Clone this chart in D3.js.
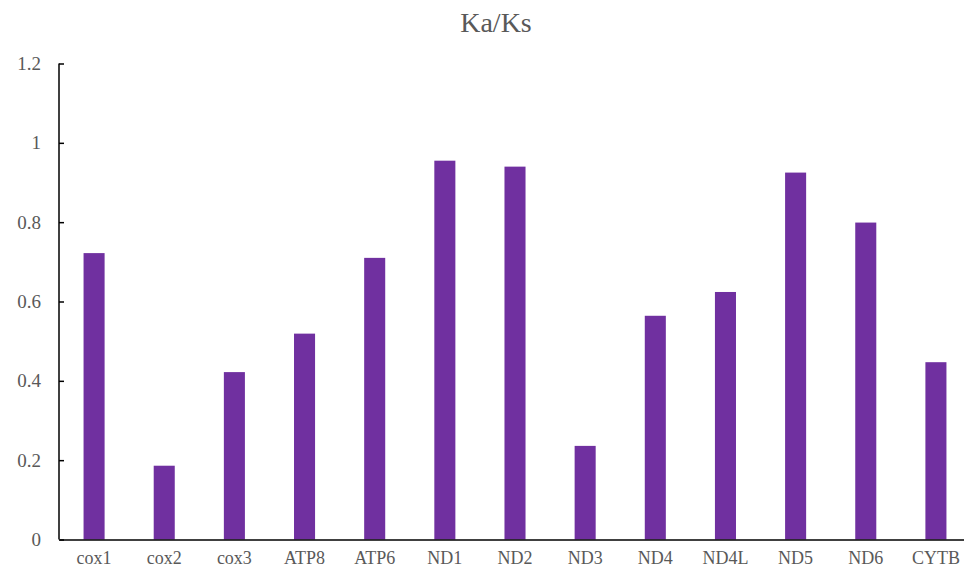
<!DOCTYPE html>
<html>
<head>
<meta charset="utf-8">
<script src="https://cdn.jsdelivr.net/npm/d3@7"></script>
<style>
  body { margin: 0; background: #fff; }
</style>
</head>
<body>
<div id="chart"></div>
<script>
// genes and Ka/Ks values
var genes = ["cox1","cox2","cox3","ATP8","ATP6","ND1","ND2","ND3","ND4","ND4L","ND5","ND6","CYTB"];
var kaks = [0.722, 0.186, 0.422, 0.519, 0.710, 0.955, 0.940, 0.236, 0.564, 0.624, 0.925, 0.799, 0.447];
var yTicks = [0, 0.2, 0.4, 0.6, 0.8, 1, 1.2];

var serif = "'Liberation Serif', 'Times New Roman', serif";
var width = 964, height = 568;
var svg = d3.select("#chart").append("svg")
    .attr("width", width)
    .attr("height", height);

var x = d3.scaleBand()
    .domain(genes)
    .range([59, 971])
    .padding(0);

var y = d3.scaleLinear()
    .domain([0, 1.2])
    .range([539.5, 63.5]);

var barW = x.bandwidth() * 0.3;

// bars
svg.append("g").selectAll("rect")
    .data(genes)
    .enter().append("rect")
    .attr("x", function(d) { return x(d) + (x.bandwidth() - barW) / 2; })
    .attr("y", function(d, i) { return y(kaks[i]); })
    .attr("width", barW)
    .attr("height", function(d, i) { return y(0) - y(kaks[i]); })
    .attr("fill", "#7030a0");

// y axis, ticks point inward
var yAxis = d3.axisRight(y)
    .tickValues(yTicks)
    .tickSize(5)
    .tickFormat(function(d) { return d3.format("")(d); });

var gy = svg.append("g")
    .attr("transform", "translate(59,0)")
    .call(yAxis);
gy.attr("font-family", serif).attr("font-size", 19);
gy.select(".domain").attr("stroke", "#000").attr("stroke-width", 1.5)
    .attr("d", "M0," + y(1.2) + "V" + y(0));
gy.selectAll(".tick line").attr("stroke", "#000").attr("stroke-width", 1.5);
gy.selectAll(".tick text")
    .attr("x", -18)
    .attr("text-anchor", "end")
    .attr("fill", "#595959");

// x axis
var xAxis = d3.axisBottom(x).tickSize(0).tickPadding(12);
var gx = svg.append("g")
    .attr("transform", "translate(0," + y(0) + ")")
    .call(xAxis);
gx.attr("font-family", serif).attr("font-size", 18);
gx.select(".domain").attr("stroke", "#000").attr("stroke-width", 1.5);
gx.selectAll(".tick text")
    .attr("fill", "#595959");

// title
svg.append("text")
    .attr("x", 496)
    .attr("y", 32)
    .attr("text-anchor", "middle")
    .attr("fill", "#595959")
    .attr("font-family", serif)
    .attr("font-size", 28)
    .text("Ka/Ks");
</script>
</body>
</html>
